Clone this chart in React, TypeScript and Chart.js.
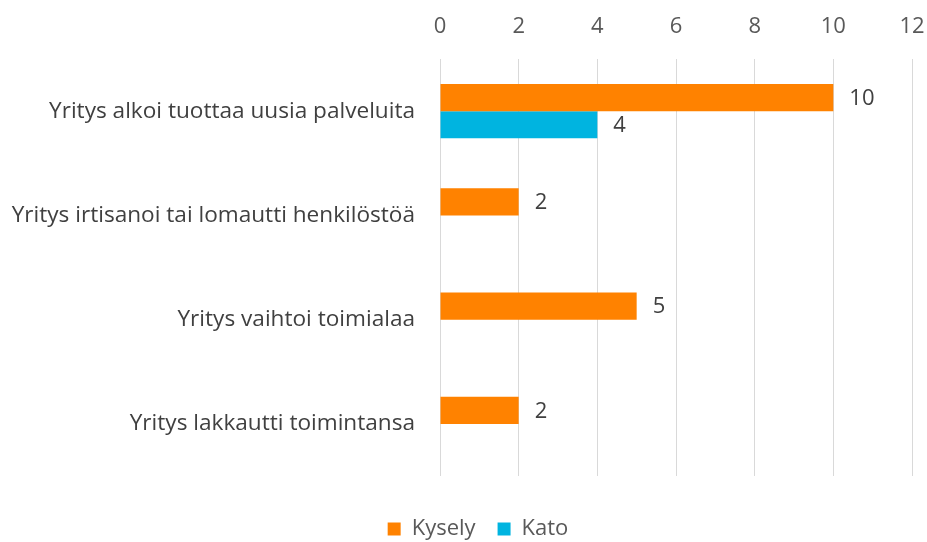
import React, { useEffect, useRef } from "react";
import { Chart, registerables } from "chart.js";

Chart.register(...registerables);

const categories = [
  "Yritys alkoi tuottaa uusia palveluita",
  "Yritys irtisanoi tai lomautti henkilöstöä",
  "Yritys vaihtoi toimialaa",
  "Yritys lakkautti toimintansa",
];
const kysely = [10, 2, 5, 2];
const kato: (number | null)[] = [4, null, null, null];
const seriesNames = ["Kysely", "Kato"];
const FONT = "'Open Sans', 'Noto Sans', sans-serif";

const valueLabels = {
  id: "valueLabels",
  afterDatasetsDraw(chart: any) {
    const ctx = chart.ctx;
    ctx.save();
    ctx.font = `22px ${FONT}`;
    ctx.fillStyle = "#404040";
    ctx.textAlign = "left";
    ctx.textBaseline = "middle";
    chart.data.datasets.forEach((ds: any, di: number) => {
      const meta = chart.getDatasetMeta(di);
      meta.data.forEach((bar: any, i: number) => {
        const v = ds.data[i];
        if (v === null || v === undefined) return;
        ctx.fillText(String(v), bar.x + 16, bar.y + 1);
      });
    });
    ctx.restore();
  },
};

const unclipY = {
  id: "unclipY",
  afterLayout(chart: any) {
    const y = chart.scales.y;
    if (y) y.left = 0;
  },
};

export default function App() {
  const ref = useRef<HTMLCanvasElement>(null);
  useEffect(() => {
    document.body.style.margin = "0";
    const chart = new Chart(ref.current!, {
      type: "bar",
      data: {
        labels: categories,
        datasets: [
          { label: seriesNames[0], data: kysely, backgroundColor: "#ff8200" },
          { label: seriesNames[1], data: kato, backgroundColor: "#00b4e0" },
        ],
      },
      options: {
        indexAxis: "y",
        animation: false,
        responsive: false,
        layout: { padding: { left: 44, right: 15, top: 0, bottom: -8 } },
        datasets: { bar: { categoryPercentage: 0.52, barPercentage: 1 } } as any,
        scales: {
          x: {
            position: "top",
            min: 0,
            max: 12,
            ticks: { stepSize: 2, color: "#595959", font: { family: FONT, size: 22 }, padding: 19 },
            grid: { color: "#d9d9d9", drawTicks: false },
            border: { display: false },
            afterFit: (s: any) => { s.height = 59; s.paddingRight = 0; s.paddingLeft = 0; },
          },
          y: {
            ticks: { color: "#404040", font: { family: FONT, size: 22.6 }, padding: 25 },
            grid: { display: false, drawTicks: false },
            border: { display: false },
            afterFit: (s: any) => { s.width = 396; s.paddingTop = 0; s.paddingBottom = 0; },
          },
        },
        plugins: {
          legend: {
            position: "bottom",
            title: { display: true, text: " ", font: { size: 10 }, padding: { top: 8, bottom: 0 } },
            labels: {
              boxWidth: 13,
              boxHeight: 13,
              color: "#595959",
              font: { family: FONT, size: 22 },
              padding: 22,
            },
          },
          tooltip: { enabled: false },
        },
      },
      plugins: [valueLabels, unclipY],
    });
    return () => chart.destroy();
  }, []);
  return <canvas ref={ref} width={927} height={542} style={{ display: "block" }} />;
}
